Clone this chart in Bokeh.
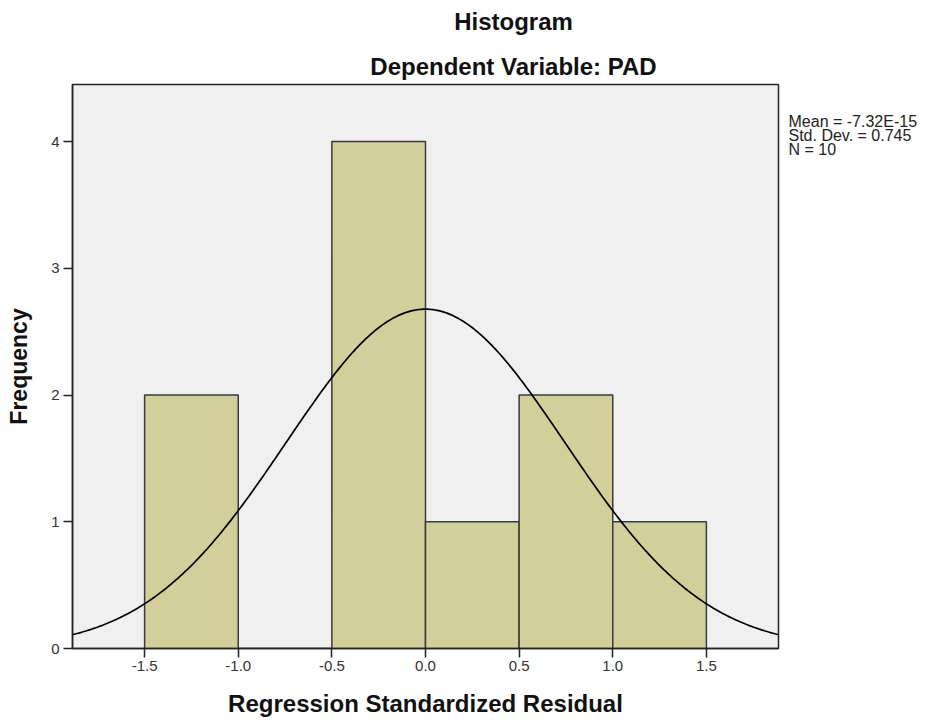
import numpy as np
from bokeh.plotting import figure
from bokeh.models import Range1d, FixedTicker, ColumnDataSource
from bokeh.layouts import column, row
from bokeh.core.properties import value
from bokeh.embed import file_html
from bokeh.resources import INLINE

# Histogram data
bin_left = [-1.5, -1.0, -0.5, 0.0, 0.5, 1.0]
bin_right = [-1.0, -0.5, 0.0, 0.5, 1.0, 1.5]
counts = [2, 0, 4, 1, 2, 1]

# Summary statistics shown beside the plot
MEAN = -7.32e-15
STD_DEV = 0.745
N = 10
BIN_WIDTH = 0.5

x_ticks = [-1.5, -1.0, -0.5, 0.0, 0.5, 1.0, 1.5]
x_tick_labels = ["-1.5", "-1.0", "-0.5", "0.0", "0.5", "1.0", "1.5"]
y_ticks = [0, 1, 2, 3, 4]

stats_lines = ["Mean = -7.32E-15", "Std. Dev. = 0.745", "N = 10"]
title_lines = ["Histogram", "Dependent Variable: PAD"]

FONT = "Liberation Sans"


def blank(width, height):
    f = figure(width=width, height=height, output_backend="svg", toolbar_location=None,
               x_range=Range1d(0, width), y_range=Range1d(0, height),
               x_axis_type=None, y_axis_type=None, min_border=0)
    f.outline_line_color = None
    f.xgrid.visible = False
    f.ygrid.visible = False
    f.background_fill_color = "white"
    f.border_fill_color = "white"
    return f


# ---- title strip ----
TITLE_H = 82
tfig = blank(936, TITLE_H)
tfig.text(x=[513, 513], y=[TITLE_H - 21, TITLE_H - 66], text=title_lines,
          text_font=value(FONT), text_font_style="bold", text_font_size="24px",
          text_align="center", text_baseline="middle", text_color="#111111")

# ---- main plot ----
p = figure(width=780, height=638, output_backend="svg", toolbar_location=None,
           x_range=Range1d(-1.885, 1.885), y_range=Range1d(0, 4.45),
           min_border_left=72, min_border_right=2, min_border_top=2,
           min_border_bottom=72)

p.background_fill_color = "#f0f0f0"
p.border_fill_color = "white"
p.outline_line_color = "#222222"
p.outline_line_width = 1.5
p.xgrid.visible = False
p.ygrid.visible = False

src = ColumnDataSource(dict(left=bin_left, right=bin_right, top=counts,
                            bottom=[0] * len(counts)))
p.quad(left="left", right="right", top="top", bottom="bottom", source=src,
       fill_color="#d3cf9a", line_color="#3a3a3a", line_width=1.5)

# Normal curve from the displayed statistics
xs = np.linspace(-1.885, 1.885, 400)
ys = N * BIN_WIDTH / (STD_DEV * np.sqrt(2 * np.pi)) * np.exp(-0.5 * ((xs - MEAN) / STD_DEV) ** 2)
p.line(xs, ys, line_color="black", line_width=1.7)

for ax in (p.xaxis[0], p.yaxis[0]):
    ax.axis_line_color = "#222222"
    ax.axis_line_width = 1.5
    ax.major_tick_line_color = "#222222"
    ax.major_tick_line_width = 1.5
    ax.major_tick_in = 0
    ax.major_tick_out = 9
    ax.minor_tick_line_color = None
    ax.major_label_text_font = FONT
    ax.major_label_text_font_size = "15px"
    ax.major_label_text_color = "#333333"
    ax.axis_label_text_font = FONT
    ax.axis_label_text_font_style = "bold"
    ax.axis_label_text_color = "#111111"

p.xaxis.ticker = FixedTicker(ticks=x_ticks)
p.xaxis.major_label_overrides = {t: l for t, l in zip(x_ticks, x_tick_labels)}
p.xaxis.axis_label = "Regression Standardized Residual"
p.xaxis.axis_label_text_font_size = "24px"
p.xaxis.major_label_standoff = 3
p.xaxis.axis_label_standoff = 16

p.yaxis.ticker = FixedTicker(ticks=y_ticks)
p.yaxis.axis_label = "Frequency"
p.yaxis.axis_label_text_font_size = "23px"
p.yaxis.major_label_standoff = 4
p.yaxis.axis_label_standoff = 16

# ---- statistics panel ----
SIDE_H = 638
sfig = blank(156, SIDE_H)
sfig.text(x=[8, 8, 8], y=[SIDE_H - 42, SIDE_H - 58, SIDE_H - 74], text=stats_lines,
          text_font=value(FONT), text_font_size="16px", text_align="left",
          text_baseline="middle", text_color="#222222")

layout = column(tfig, row(p, sfig, spacing=0), spacing=0)
open("out.html", "w").write(file_html(layout, INLINE))
